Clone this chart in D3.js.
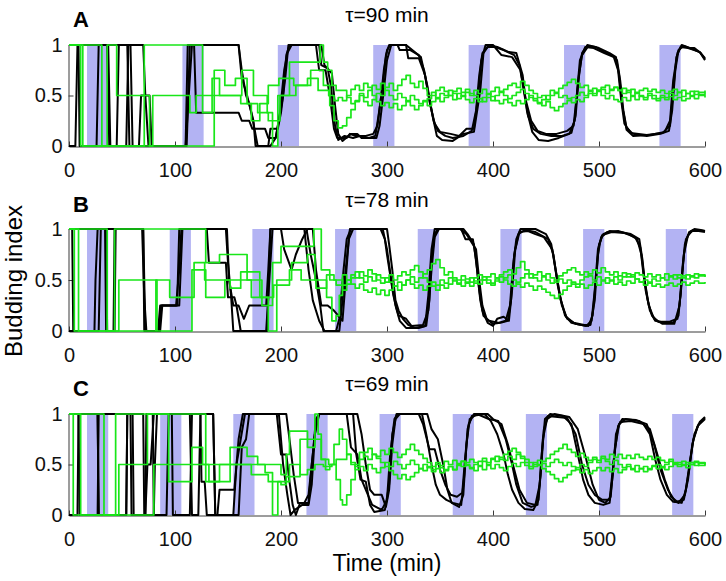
<!DOCTYPE html>
<html><head><meta charset="utf-8">
<script src="https://cdn.jsdelivr.net/npm/d3@7"></script>
<style>body{margin:0;background:#fff} text{font-family:"Liberation Sans",Arial,Helvetica,sans-serif}</style>
</head><body><svg id="c" width="726" height="581"></svg>
<script>
// ---------------- DATA ----------------
const xTicks = [0,100,200,300,400,500,600];
const yTicks = [0,0.5,1];
const yTickLabels = ["0","0.5","1"];
const panelLetters = ["A","B","C"];
const panelTitles = ["\u03c4=90 min","\u03c4=78 min","\u03c4=69 min"];
const xLabel = "Time (min)";
const yLabel = "Budding index";
const bandWidth = 20; // minutes
const bandStartsA = [17,107,197,287,377,467,557];
const bandStartsB = [17,95,173,251,329,407,485,563];
const bandStartsC = [17,86,155,224,293,362,431,500,569];

// black traces (time, budding index)
const blackA1 = [[0,0],[6,0],[8,1],[36,1],[38,0],[45,0],[47,1],[55,1],[57,0],[110,0],[112,1],[160,1],[163,0.67],[168,0.5],[172,0.33],[175,0.17],[178,0],[188,0],[190,0.17],[197,0.17],[200,0.33],[204,0.67],[207,1],[233,1],[236,0.75],[242,0.75],[246,0.5],[250,0.17],[253,0.08],[262,0.08],[265,0.12],[270,0.1],[280,0.1],[287,0.12],[291,0.2],[294,0.45],[297,0.75],[300,0.95],[303,1],[310,1],[312,0.95],[322,0.95],[330,0.9],[335,0.75],[340,0.45],[344,0.25],[348,0.15],[355,0.1],[362,0.08],[372,0.1],[380,0.15],[384,0.35],[387,0.7],[390,0.92],[395,0.98],[402,0.98],[410,0.95],[420,0.9],[425,0.8],[429,0.55],[433,0.3],[438,0.17],[445,0.12],[455,0.1],[465,0.1],[474,0.13],[478,0.3],[481,0.7],[484,0.9],[490,0.99],[497,0.98],[505,0.93],[512,0.9],[517,0.85],[520,0.65],[523,0.35],[526,0.18],[532,0.12],[545,0.1],[558,0.12],[566,0.15],[569,0.35],[572,0.75],[575,0.95],[580,0.99],[585,0.97],[590,0.97],[596,0.92],[600,0.86]];
const blackA2 = [[0,1],[9,1],[10,0],[26,0],[27,0.5],[28,1],[58,1],[60,0],[66,0],[68,0.5],[72,0.5],[73,0.33],[75,0],[111,0],[114,1],[118,1],[120,0.33],[160,0.33],[163,0.25],[170,0.25],[173,0.17],[185,0.17],[188,0.08],[195,0.08],[198,0.25],[202,0.5],[205,0.9],[208,1],[236,1],[238,0.8],[244,0.77],[247,0.6],[251,0.2],[254,0.06],[260,0.1],[268,0.08],[275,0.1],[283,0.08],[289,0.1],[292,0.3],[296,0.6],[299,0.9],[302,1],[318,1],[320,0.87],[330,0.87],[336,0.7],[341,0.4],[345,0.22],[350,0.14],[360,0.12],[368,0.1],[375,0.17],[382,0.17],[386,0.5],[389,0.85],[393,1],[400,1],[408,0.9],[418,0.88],[426,0.75],[431,0.45],[436,0.25],[442,0.15],[450,0.12],[460,0.12],[470,0.15],[476,0.2],[479,0.5],[482,0.85],[487,0.98],[495,0.97],[505,0.92],[514,0.88],[518,0.75],[521,0.45],[524,0.22],[530,0.13],[545,0.11],[560,0.13],[567,0.2],[570,0.55],[573,0.88],[577,0.98],[584,0.97],[590,0.95],[595,0.93],[600,0.87]];
const blackA3 = [[0,1],[37,1],[39,0],[54,0],[56,1],[70,1],[72,0.5],[76,0.5],[78,0],[110,0],[113,0.5],[116,1],[160,1],[163,0.75],[167,0.5],[170,0.42],[174,0.25],[176,0],[190,0],[195,0.08],[199,0.33],[203,0.75],[206,0.92],[210,1],[238,1],[241,0.8],[248,0.72],[251,0.4],[254,0.12],[258,0.05],[266,0.12],[272,0.12],[276,0.08],[290,0.08],[293,0.2],[297,0.55],[300,0.85],[304,1],[318,1],[332,0.88],[338,0.6],[343,0.3],[347,0.1],[352,0.06],[362,0.05],[372,0.12],[382,0.14],[388,0.55],[391,0.92],[396,1],[404,0.98],[415,0.93],[422,0.92],[428,0.7],[432,0.35],[437,0.14],[443,0.06],[452,0.05],[462,0.08],[472,0.12],[477,0.25],[480,0.6],[484,0.92],[489,1],[500,0.97],[510,0.92],[516,0.88],[519,0.7],[522,0.4],[526,0.16],[532,0.1],[548,0.11],[562,0.14],[567,0.25],[570,0.65],[574,0.92],[578,1],[588,0.96],[595,0.93],[600,0.85]];

const blackB1 = [[0,0],[24,0],[25,0.5],[27,1],[34,1],[35,0],[42,0],[43,1],[70,1],[72,0],[85,0],[87,0.25],[101,0.25],[104,0.6],[106,1],[148,1],[150,0.67],[153,0.33],[155,0],[187,0],[190,1],[224,1],[228,0.75],[233,0.5],[237,0.25],[240,0],[255,0],[258,0.3],[262,0.7],[265,1],[296,1],[300,0.8],[304,0.5],[308,0.25],[312,0.1],[318,0.03],[330,0.03],[337,0.05],[340,0.3],[342,0.7],[345,0.95],[348,1],[372,1],[376,0.95],[382,0.85],[385,0.6],[388,0.3],[391,0.15],[396,0.1],[405,0.08],[412,0.1],[416,0.25],[419,0.65],[422,0.9],[426,1],[440,1],[450,0.95],[455,0.85],[459,0.6],[463,0.35],[468,0.15],[474,0.08],[482,0.06],[490,0.05],[494,0.15],[497,0.5],[500,0.85],[504,0.95],[510,0.98],[520,0.97],[530,0.95],[538,0.9],[541,0.7],[544,0.4],[548,0.2],[553,0.1],[562,0.08],[570,0.08],[575,0.15],[578,0.5],[581,0.85],[585,0.97],[590,1],[596,0.99],[600,0.98]];
const blackB2 = [[0,1],[3,1],[4,0],[28,0],[30,1],[69,1],[71,0.33],[73,0],[84,0],[86,0.25],[104,0.25],[107,1],[130,1],[132,0.67],[148,0.67],[150,0.33],[156,0.33],[158,0.25],[162,0],[186,0],[189,0.5],[192,1],[200,1],[203,0.8],[210,0.6],[214,0.75],[220,0.9],[225,1],[230,1],[233,0.6],[238,0.25],[244,0.25],[250,0.2],[258,0.1],[261,0.5],[264,0.9],[268,1],[300,1],[302,0.85],[305,0.6],[308,0.3],[311,0.2],[315,0.12],[320,0.06],[326,0.03],[336,0.05],[339,0.35],[342,0.8],[345,1],[370,1],[374,0.9],[381,0.9],[384,0.7],[387,0.4],[390,0.2],[395,0.08],[400,0.05],[404,0.12],[410,0.14],[415,0.1],[418,0.4],[421,0.8],[425,0.97],[433,0.98],[440,0.95],[448,0.92],[456,0.8],[460,0.55],[464,0.3],[469,0.14],[476,0.08],[486,0.06],[492,0.06],[496,0.3],[499,0.75],[502,0.92],[508,0.97],[518,0.98],[528,0.95],[536,0.9],[540,0.75],[543,0.5],[547,0.25],[552,0.12],[560,0.07],[571,0.07],[576,0.25],[579,0.65],[582,0.9],[587,0.98],[594,0.98],[600,0.97]];
const blackB3 = [[0,1],[35,1],[36,0],[43,0],[44,1],[70,1],[71,0],[86,0],[88,0.25],[102,0.25],[104,1],[149,1],[151,0.5],[155,0.25],[160,0.25],[165,0.12],[170,0.25],[186,0.25],[188,0.6],[190,1],[222,1],[226,0.6],[230,0.3],[236,0.1],[241,0],[252,0],[255,0.12],[259,0.6],[262,0.9],[266,1],[294,1],[298,0.9],[300,0.75],[303,0.55],[306,0.35],[309,0.22],[311,0.15],[318,0.12],[323,0.05],[334,0.06],[339,0.2],[342,0.6],[345,0.92],[349,1],[369,1],[375,0.95],[384,0.8],[387,0.5],[390,0.25],[394,0.12],[400,0.07],[407,0.08],[414,0.1],[417,0.3],[420,0.75],[424,0.95],[430,0.99],[440,0.97],[452,0.9],[457,0.75],[461,0.45],[465,0.25],[470,0.12],[478,0.07],[488,0.05],[493,0.1],[496,0.4],[499,0.8],[503,0.94],[512,0.97],[524,0.96],[534,0.92],[539,0.82],[542,0.55],[546,0.3],[550,0.15],[556,0.09],[566,0.09],[574,0.12],[577,0.35],[580,0.75],[584,0.94],[589,0.99],[600,0.98]];

const blackC1 = [[0,0],[8,0],[9,1],[27,1],[28,0],[54,0],[55,1],[70,1],[71,0],[80,0],[81,0.5],[83,1],[97,1],[98,0],[114,0],[116,1],[136,1],[138,0],[155,0],[158,0.5],[162,0.75],[166,1],[196,1],[200,0.6],[205,0.6],[208,0.33],[211,0.1],[214,0],[218,0.12],[226,0.12],[229,0.5],[233,0.9],[236,1],[268,1],[271,0.6],[275,0.35],[280,0.33],[284,0.1],[288,0.03],[298,0.05],[302,0.3],[305,0.8],[309,1],[333,1],[337,0.8],[342,0.5],[346,0.3],[350,0.2],[356,0.15],[362,0.12],[370,0.1],[373,0.4],[376,0.85],[380,0.98],[392,1],[398,0.93],[404,0.8],[410,0.6],[414,0.4],[418,0.25],[424,0.12],[430,0.06],[438,0.05],[443,0.15],[446,0.6],[449,0.95],[454,1],[466,0.98],[474,0.9],[480,0.6],[485,0.35],[490,0.2],[496,0.12],[504,0.1],[510,0.12],[513,0.4],[516,0.8],[520,0.92],[530,0.93],[542,0.9],[548,0.8],[553,0.55],[558,0.35],[564,0.2],[570,0.13],[578,0.12],[582,0.25],[586,0.55],[590,0.8],[595,0.92],[600,0.97]];
const blackC2 = [[0,1],[27,1],[28,0],[54,0],[55,1],[58,1],[59,0],[72,0],[73,1],[79,1],[80,0],[92,0],[94,1],[124,1],[125,0.33],[128,0.33],[130,0],[140,0],[142,0.25],[156,0.25],[160,0.75],[164,1],[205,1],[208,0.75],[212,0.4],[216,0.12],[222,0.12],[226,0.2],[230,0.6],[233,0.95],[236,1],[262,1],[266,0.67],[272,0.6],[276,0.35],[282,0.2],[286,0.1],[295,0.05],[300,0.15],[303,0.6],[307,0.95],[310,1],[338,1],[342,0.85],[348,0.75],[353,0.5],[357,0.25],[361,0.12],[368,0.08],[372,0.2],[375,0.7],[378,0.95],[385,1],[396,0.95],[405,0.93],[412,0.75],[418,0.5],[422,0.3],[428,0.12],[436,0.08],[442,0.1],[445,0.4],[448,0.85],[452,0.98],[470,0.96],[478,0.8],[484,0.5],[490,0.3],[496,0.2],[503,0.15],[510,0.15],[514,0.55],[518,0.88],[522,0.95],[535,0.94],[545,0.9],[552,0.7],[558,0.45],[565,0.25],[572,0.13],[580,0.15],[584,0.35],[588,0.7],[593,0.88],[600,0.95]];
const blackC3 = [[0,1],[9,1],[10,0],[27,0],[28,1],[60,1],[61,0],[72,0],[74,0.5],[77,0.5],[80,1],[114,1],[116,0],[122,0],[124,1],[136,1],[138,0],[160,0],[163,0.67],[167,0.75],[170,1],[198,1],[202,0.5],[206,0.2],[209,0],[213,0.05],[220,0.1],[226,0.1],[229,0.3],[232,0.8],[236,1],[272,1],[276,0.8],[280,0.5],[284,0.25],[288,0.2],[295,0.2],[299,0.08],[302,0.25],[305,0.7],[308,0.95],[312,1],[330,1],[334,0.9],[340,0.65],[345,0.65],[350,0.45],[355,0.3],[360,0.2],[366,0.18],[371,0.22],[374,0.6],[377,0.9],[382,1],[395,1],[400,0.95],[408,0.9],[414,0.7],[420,0.45],[425,0.25],[432,0.12],[440,0.1],[444,0.3],[447,0.75],[451,0.95],[458,1],[472,0.97],[480,0.85],[488,0.55],[494,0.3],[500,0.15],[506,0.12],[511,0.18],[515,0.65],[519,0.9],[525,0.95],[538,0.93],[548,0.85],[555,0.6],[562,0.35],[568,0.18],[575,0.12],[581,0.2],[585,0.45],[589,0.75],[594,0.9],[600,0.96]];

// green traces: early step part (time, index) + late part sampled on tailTimes
const greenA1Early = [[0,1],[10,1],[11,0],[35,0],[36,1],[44,1],[45,0.5],[75,0.5],[76,0],[135,0],[137,0.5],[160,0.5],[163,0.75],[172,0.75],[174,0.5],[185,0.5],[187,0.33],[190,0.33],[192,0],[195,0],[197,0.5],[205,0.5],[208,0.83],[235,0.83],[237,1],[240,0.83],[244,0.75],[248,0.6],[252,0.55]];
const greenA2Early = [[0,1],[12,1],[13,0],[70,0],[71,1],[124,1],[126,0.33],[133,0.33],[135,0.67],[140,0.67],[142,0.5],[160,0.5],[162,0.42],[170,0.42],[172,0.25],[178,0.25],[180,0.42],[186,0.42],[188,0.6],[196,0.6],[198,0.67],[210,0.67],[212,0.6],[222,0.6],[225,0.67],[232,0.67],[235,0.55],[242,0.55],[245,0.5],[250,0.45],[254,0.48]];
const greenA3Early = [[0,1],[30,1],[31,0],[78,0],[79,0.5],[113,0.5],[114,0.33],[118,0.33],[120,0.5],[135,0.5],[137,0.75],[145,0.75],[147,0.6],[155,0.6],[157,0.67],[165,0.67],[168,0.42],[175,0.42],[178,0.33],[186,0.33],[188,0.25],[197,0.25],[199,0.5],[212,0.5],[214,0.6],[225,0.6],[228,0.75],[235,0.75],[240,0.6],[246,0.4],[250,0.25],[254,0.18]];
const greenB1Early = [[0,1],[8,1],[9,0],[46,0],[47,0.5],[82,0.5],[83,0],[115,0],[116,0.6],[127,0.6],[129,0.33],[145,0.33],[147,0.5],[170,0.5],[172,0.33],[186,0.33],[188,0],[194,0],[196,0.5],[208,0.5],[210,0.67],[222,0.67],[225,0.75],[230,0.75],[232,0.5],[240,0.5],[243,0.33],[248,0.1],[252,0.15],[255,0.35]];
const greenB2Early = [[0,1],[35,1],[36,0],[42,0],[43,1],[127,1],[129,0.67],[140,0.67],[142,0.75],[165,0.75],[168,0.5],[180,0.5],[182,0.25],[190,0.25],[192,0.67],[198,0.67],[200,0.83],[228,0.83],[231,1],[235,1],[238,0.6],[244,0.6],[246,0.5],[252,0.45]];
const greenB3Early = [[0,1],[4,1],[5,0],[81,0],[82,0.5],[94,0.5],[95,0.33],[116,0.33],[118,0.67],[126,0.67],[128,0.5],[150,0.5],[152,0.42],[160,0.42],[162,0.58],[178,0.58],[180,0.33],[190,0.33],[193,0.45],[205,0.45],[208,0.6],[216,0.6],[219,0.5],[230,0.5],[233,0.42],[240,0.42],[243,0.55],[250,0.5]];
const greenC1Early = [[0,1],[10,1],[11,0],[79,0],[80,0.5],[114,0.5],[116,0.67],[124,0.67],[126,0.5],[180,0.5],[185,0.42],[190,0.42],[192,0],[195,0],[197,0.33],[205,0.33],[208,0.5],[215,0.5],[218,0.4],[225,0.45],[232,0.5],[240,0.48],[248,0.5],[252,0.35],[256,0.15]];
const greenC2Early = [[0,1],[32,1],[33,0],[46,0],[47,0.5],[73,0.5],[74,1],[127,1],[129,0.33],[150,0.33],[152,0.67],[165,0.67],[168,0.58],[175,0.58],[178,0.5],[195,0.5],[200,0.4],[205,0.6],[208,0.83],[222,0.83],[225,0.67],[230,0.67],[232,1],[235,0.8],[238,0.55],[242,0.45],[246,0.5],[252,0.55]];
const greenC3Early = [[0,1],[3,1],[4,0],[43,0],[44,1],[93,1],[94,0.33],[114,0.33],[116,0.5],[130,0.5],[132,0.33],[140,0.33],[142,0.5],[170,0.5],[172,0.4],[185,0.4],[188,0.33],[200,0.3],[205,0.38],[215,0.38],[218,0.75],[232,0.75],[238,0.55],[245,0.5],[250,0.7],[255,0.85]];

const tailTimes = [258,262,266,270,274,278,282,286,290,294,298,302,306,310,314,318,322,326,330,334,338,342,346,350,354,358,362,366,370,374,378,382,386,390,394,398,402,406,410,414,418,422,426,430,434,438,442,446,450,454,458,462,466,470,474,478,482,486,490,494,498,502,506,510,514,518,522,526,530,534,538,542,546,550,554,558,562,566,570,574,578,582,586,590,594,600];
const greenA1Tail = [0.55,0.48,0.42,0.45,0.50,0.44,0.40,0.46,0.52,0.50,
0.58,0.62,0.55,0.60,0.66,0.70,0.62,0.58,0.64,0.57,
0.50,0.53,0.47,0.44,0.48,0.50,0.46,0.52,0.49,0.53,
0.50,0.55,0.52,0.56,0.51,0.54,0.58,0.53,0.56,0.60,
0.62,0.58,0.64,0.60,0.55,0.52,0.48,0.50,0.46,0.50,
0.53,0.57,0.60,0.63,0.66,0.62,0.58,0.60,0.55,0.52,
0.55,0.50,0.47,0.50,0.46,0.44,0.48,0.45,0.49,0.46,
0.50,0.48,0.52,0.50,0.47,0.50,0.48,0.52,0.50,0.53,
0.49,0.52,0.50,0.54,0.51,0.53];
const greenA2Tail = [0.45,0.50,0.56,0.60,0.55,0.62,0.58,0.50,0.44,0.40,
0.43,0.38,0.42,0.36,0.40,0.45,0.50,0.46,0.42,0.45,
0.40,0.44,0.48,0.52,0.50,0.55,0.52,0.47,0.50,0.46,
0.43,0.47,0.44,0.48,0.52,0.49,0.45,0.42,0.46,0.43,
0.40,0.45,0.42,0.46,0.50,0.47,0.43,0.40,0.44,0.38,
0.35,0.39,0.42,0.45,0.48,0.50,0.53,0.50,0.54,0.57,
0.55,0.58,0.60,0.56,0.58,0.55,0.52,0.55,0.50,0.53,
0.49,0.46,0.50,0.47,0.45,0.48,0.46,0.49,0.46,0.48,
0.45,0.47,0.49,0.47,0.50,0.48];
const greenA3Tail = [0.20,0.28,0.36,0.44,0.52,0.48,0.55,0.60,0.56,0.62,
0.55,0.50,0.46,0.52,0.48,0.44,0.40,0.36,0.40,0.44,
0.47,0.50,0.55,0.58,0.54,0.50,0.54,0.57,0.53,0.56,
0.52,0.50,0.47,0.44,0.48,0.45,0.50,0.54,0.50,0.47,
0.50,0.53,0.56,0.52,0.48,0.45,0.42,0.46,0.50,0.55,
0.52,0.48,0.50,0.47,0.43,0.46,0.44,0.48,0.52,0.50,
0.54,0.56,0.52,0.55,0.58,0.55,0.57,0.53,0.56,0.52,
0.55,0.57,0.54,0.56,0.53,0.55,0.52,0.54,0.56,0.53,
0.55,0.52,0.54,0.51,0.53,0.55];
const greenB1Tail = [0.45,0.50,0.55,0.52,0.58,0.54,0.60,0.56,0.50,0.47,
0.52,0.48,0.44,0.40,0.45,0.50,0.53,0.48,0.52,0.56,
0.60,0.66,0.70,0.62,0.55,0.58,0.52,0.50,0.54,0.51,
0.48,0.52,0.55,0.50,0.53,0.56,0.52,0.55,0.58,0.60,
0.56,0.62,0.68,0.60,0.56,0.52,0.49,0.53,0.50,0.47,
0.50,0.54,0.57,0.60,0.62,0.58,0.55,0.58,0.54,0.50,
0.53,0.50,0.47,0.50,0.46,0.48,0.45,0.49,0.47,0.51,
0.48,0.50,0.47,0.51,0.49,0.52,0.50,0.54,0.51,0.55,
0.52,0.55,0.53,0.56,0.54,0.55];
const greenB2Tail = [0.55,0.50,0.46,0.42,0.46,0.40,0.38,0.42,0.36,0.40,
0.35,0.40,0.44,0.48,0.45,0.50,0.46,0.42,0.45,0.40,
0.44,0.48,0.45,0.50,0.47,0.52,0.49,0.46,0.50,0.47,
0.44,0.47,0.50,0.53,0.50,0.47,0.51,0.48,0.52,0.55,
0.50,0.46,0.43,0.47,0.44,0.40,0.44,0.41,0.38,0.35,
0.32,0.36,0.40,0.44,0.48,0.46,0.50,0.53,0.56,0.60,
0.57,0.62,0.58,0.55,0.58,0.54,0.57,0.53,0.55,0.51,
0.48,0.45,0.48,0.44,0.46,0.43,0.45,0.47,0.44,0.46,
0.48,0.45,0.47,0.49,0.47,0.48];
const greenB3Tail = [0.40,0.46,0.52,0.58,0.52,0.48,0.53,0.49,0.55,0.52,
0.48,0.55,0.50,0.54,0.58,0.55,0.60,0.64,0.58,0.52,
0.48,0.44,0.40,0.45,0.42,0.46,0.50,0.47,0.44,0.48,
0.52,0.49,0.46,0.50,0.47,0.45,0.49,0.53,0.50,0.46,
0.44,0.48,0.52,0.56,0.52,0.55,0.58,0.54,0.56,0.52,
0.48,0.51,0.47,0.50,0.46,0.43,0.46,0.42,0.45,0.48,
0.45,0.49,0.52,0.49,0.53,0.50,0.53,0.56,0.53,0.57,
0.55,0.53,0.56,0.53,0.55,0.52,0.56,0.53,0.55,0.52,
0.54,0.51,0.54,0.52,0.55,0.53];
const greenC1Tail = [0.10,0.20,0.35,0.50,0.62,0.58,0.55,0.60,0.56,0.52,
0.48,0.44,0.40,0.36,0.40,0.35,0.38,0.42,0.46,0.44,
0.48,0.45,0.50,0.47,0.44,0.48,0.45,0.50,0.53,0.49,
0.46,0.50,0.53,0.56,0.52,0.55,0.58,0.55,0.60,0.63,
0.66,0.62,0.58,0.55,0.52,0.48,0.50,0.46,0.43,0.40,
0.36,0.33,0.37,0.40,0.44,0.47,0.50,0.48,0.52,0.55,
0.52,0.56,0.53,0.50,0.54,0.50,0.47,0.50,0.46,0.49,
0.46,0.48,0.45,0.48,0.50,0.47,0.50,0.53,0.50,0.52,
0.49,0.52,0.50,0.53,0.51,0.52];
const greenC2Tail = [0.55,0.60,0.52,0.48,0.55,0.62,0.66,0.60,0.58,0.64,
0.60,0.66,0.62,0.57,0.60,0.65,0.70,0.64,0.60,0.56,
0.52,0.48,0.52,0.49,0.53,0.50,0.54,0.51,0.48,0.52,
0.55,0.52,0.49,0.53,0.50,0.56,0.53,0.57,0.54,0.58,
0.55,0.60,0.56,0.52,0.48,0.52,0.49,0.53,0.56,0.60,
0.63,0.66,0.70,0.65,0.62,0.58,0.61,0.57,0.54,0.57,
0.54,0.58,0.55,0.60,0.57,0.60,0.56,0.59,0.56,0.60,
0.57,0.55,0.58,0.55,0.57,0.54,0.52,0.55,0.52,0.50,
0.53,0.50,0.52,0.49,0.52,0.50];
const greenC3Tail = [0.75,0.60,0.50,0.45,0.48,0.44,0.50,0.46,0.42,0.47,
0.52,0.48,0.53,0.50,0.46,0.50,0.54,0.50,0.46,0.50,
0.47,0.43,0.46,0.42,0.45,0.48,0.45,0.49,0.53,0.50,
0.47,0.44,0.48,0.45,0.49,0.46,0.50,0.47,0.44,0.48,
0.51,0.48,0.52,0.49,0.46,0.50,0.54,0.51,0.48,0.52,
0.55,0.52,0.49,0.52,0.48,0.45,0.42,0.45,0.41,0.44,
0.47,0.44,0.47,0.43,0.46,0.42,0.45,0.48,0.45,0.43,
0.46,0.43,0.46,0.49,0.46,0.48,0.45,0.48,0.51,0.48,
0.50,0.47,0.50,0.52,0.49,0.51];

// ---------------- DRAWING ----------------
const full = (early, tail) => early.concat(d3.zip(tailTimes, tail));
const panelData = [
  {bands: bandStartsA, blacks: [blackA1, blackA2, blackA3],
   greens: [full(greenA1Early, greenA1Tail), full(greenA2Early, greenA2Tail), full(greenA3Early, greenA3Tail)]},
  {bands: bandStartsB, blacks: [blackB1, blackB2, blackB3],
   greens: [full(greenB1Early, greenB1Tail), full(greenB2Early, greenB2Tail), full(greenB3Early, greenB3Tail)]},
  {bands: bandStartsC, blacks: [blackC1, blackC2, blackC3],
   greens: [full(greenC1Early, greenC1Tail), full(greenC2Early, greenC2Tail), full(greenC3Early, greenC3Tail)]}
];
// layout (pixels)
const layout = [
  {top: 45, bottom: 146, titleY: 22, letterY: 27},
  {top: 229, bottom: 331, titleY: 207, letterY: 212},
  {top: 414, bottom: 515, titleY: 391, letterY: 396}
];
const style = {band: "#b3b3f3", black: "#000", green: "#19e619", axis: "#3a3a3a"};

const svg = d3.select("#c");
svg.append("rect").attr("width", 726).attr("height", 581).attr("fill", "#fff");
const x = d3.scaleLinear().domain([0, 600]).range([69, 705]);

panelData.forEach((pd, i) => {
  const L = layout[i];
  const y = d3.scaleLinear().domain([0, 1]).range([L.bottom, L.top]);
  const g = svg.append("g");

  g.selectAll("rect.band").data(pd.bands).enter().append("rect")
    .attr("x", d => x(d)).attr("width", d => x(d + bandWidth) - x(d))
    .attr("y", y(1)).attr("height", y(0) - y(1)).attr("fill", style.band);

  const xa = g.append("g").attr("transform", `translate(0,${L.bottom + 0.5})`)
    .call(d3.axisBottom(x).tickValues(xTicks).tickSizeInner(-5).tickSizeOuter(0).tickPadding(16));
  xa.select(".domain").attr("stroke", style.axis);
  xa.selectAll(".tick line").attr("stroke", style.axis);
  xa.selectAll(".tick text").attr("font-size", 20).attr("fill", "#111")
    .attr("font-family", '"Liberation Sans",Arial,sans-serif');
  const ya = g.append("g").attr("transform", `translate(${x(0) - 0.5},0)`)
    .call(d3.axisLeft(y).tickValues(yTicks).tickFormat((d, k) => yTickLabels[k]).tickSizeInner(-5).tickSizeOuter(0).tickPadding(6));
  ya.select(".domain").attr("stroke", style.axis);
  ya.selectAll(".tick line").attr("stroke", style.axis);
  ya.selectAll(".tick text").attr("font-size", 20).attr("fill", "#111")
    .attr("font-family", '"Liberation Sans",Arial,sans-serif');

  const line = d3.line().x(d => x(d[0])).y(d => y(d[1]));
  const stepLine = d3.line().x(d => x(d[0])).y(d => y(d[1])).curve(d3.curveStepAfter);
  g.selectAll("path.blk").data(pd.blacks).enter().append("path")
    .attr("d", line).attr("fill", "none").attr("stroke", style.black)
    .attr("stroke-width", 2).attr("stroke-linejoin", "round");
  g.selectAll("path.grn").data(pd.greens).enter().append("path")
    .attr("d", stepLine).attr("fill", "none").attr("stroke", style.green)
    .attr("stroke-width", 1.7).attr("stroke-linejoin", "round");

  g.append("text").attr("x", (x(0) + x(600)) / 2).attr("y", L.titleY)
    .attr("text-anchor", "middle").attr("font-size", 21).text(panelTitles[i]);
  g.append("text").attr("x", 73).attr("y", L.letterY)
    .attr("font-size", 22).attr("font-weight", "bold").text(panelLetters[i]);
});

svg.append("text").attr("x", (x(0) + x(600)) / 2).attr("y", 571)
  .attr("text-anchor", "middle").attr("font-size", 23).text(xLabel);
svg.append("text").attr("transform", "translate(22,281) rotate(-90)")
  .attr("text-anchor", "middle").attr("font-size", 24).text(yLabel);
</script></body></html>
